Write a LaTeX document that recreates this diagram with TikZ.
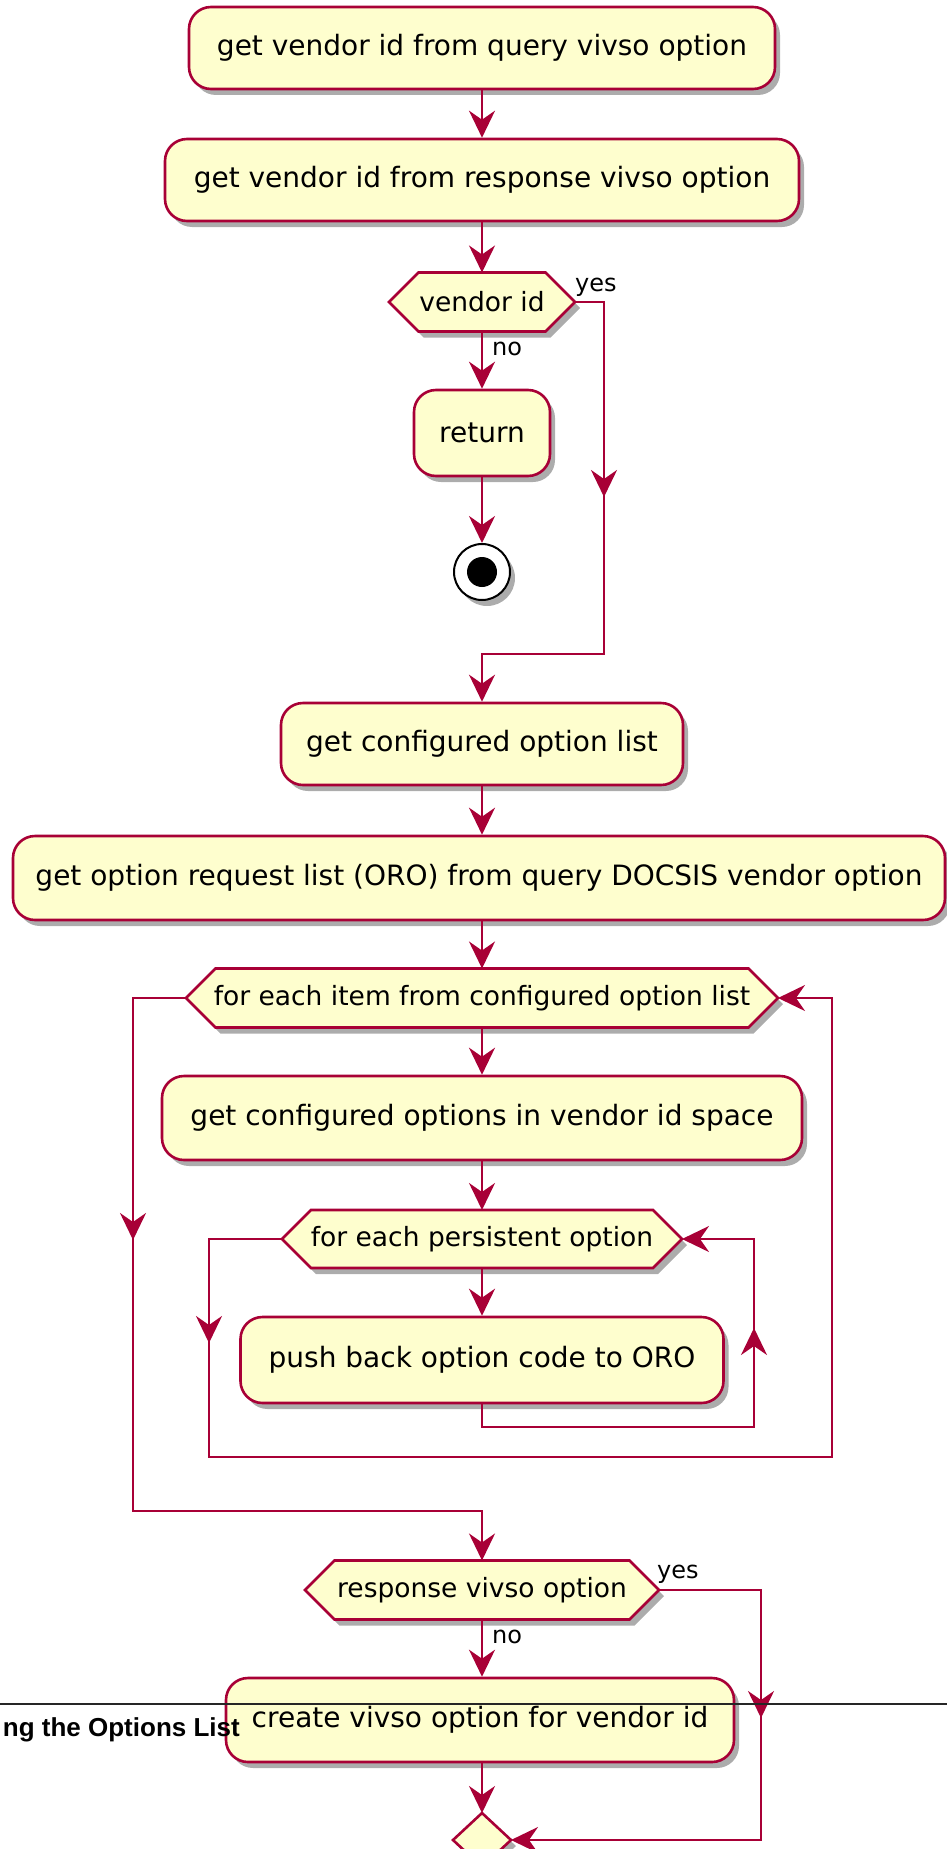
\documentclass[tikz,border=0pt]{standalone}
\usepackage{fontspec}
\setmainfont{DejaVu Sans}
\newfontfamily\capfont{Liberation Sans}
\usetikzlibrary{arrows.meta,shadows}
\definecolor{umlfill}{HTML}{FEFECE}
\definecolor{umlline}{HTML}{A80036}
\tikzset{
  shad/.style={drop shadow={opacity=0.5, fill=black!65, shadow xshift=5pt, shadow yshift=-6pt}},
  actbox/.style={draw=umlline, fill=umlfill, line width=2.6pt, rounded corners=22pt,
    minimum height=82pt, inner sep=0pt, shad, font=\fontsize{28}{32}\selectfont, text=black},
  hexshape/.style={draw=umlline, fill=umlfill, line width=2.6pt, shad},
  hextxt/.style={inner sep=0pt, outer sep=0pt, font=\fontsize{26.5}{30}\selectfont, text=black},
  conn/.style={draw=umlline, line width=2.6pt},
  arr/.style={conn, -{Stealth[length=27pt,width=26pt,inset=9pt]}},
  lbl/.style={font=\fontsize{24}{28}\selectfont, text=black, inner sep=0pt, anchor=west},
}
\newcommand\hexa[6]{%
  \path[hexshape] ({#2-#4},{#3}) -- ({#2-#4+#5},{#3-#5}) -- ({#2+#4-#5},{#3-#5}) -- ({#2+#4},{#3})
     -- ({#2+#4-#5},{#3+#5}) -- ({#2-#4+#5},{#3+#5}) -- cycle;
  \node[hextxt, minimum width={2*#4 pt}, minimum height={2*#5 pt}] (#1) at (#2,#3) {#6};
}
\begin{document}
\begin{tikzpicture}[x=1pt,y=-1pt]
\useasboundingbox (0,0) rectangle (947,1849);

% shapes
\node[actbox, minimum width=586pt] (b1) at (482,48) {get vendor id from query vivso option};
\node[actbox, minimum width=634pt] (b2) at (482,180) {get vendor id from response vivso option};
\hexa{vid}{482}{302}{93}{29.5}{vendor id}
\node[actbox, minimum width=136pt, minimum height=86pt] (ret) at (482,433) {return};
\node[circle, draw=black, fill=white, line width=2pt, minimum size=56pt, inner sep=0pt, shad] (stop) at (482,572) {};
\fill[black] (stop.center) circle (15);
\node[actbox, minimum width=402pt] (conf) at (482,744) {get configured option list};
\node[actbox, minimum width=932pt, minimum height=84pt] (oro) at (479,878) {get option request list (ORO) from query DOCSIS vendor option};
\hexa{loopA}{482}{998}{296}{29.5}{for each item from configured option list}
\node[actbox, minimum width=640pt, minimum height=84pt] (cvid) at (482,1118) {get configured options in vendor id space};
\hexa{loopB}{482}{1239}{200}{29}{for each persistent option}
\node[actbox, minimum width=483pt, minimum height=86pt] (push) at (482,1360) {push back option code to ORO};
\hexa{resp}{482}{1590}{177}{29.5}{response vivso option}
\node[actbox, minimum width=508pt, minimum height=84pt] (create) at (480,1720) {create vivso option for vendor id};
\node[inner sep=0pt, outer sep=0pt, minimum width=58pt, minimum height=54pt] (merge) at (482,1840) {};
\path[hexshape] (merge.north) -- (merge.east) -- (merge.south) -- (merge.west) -- cycle;

% corner coordinates
\coordinate (c6) at (604,654);
\coordinate (c1) at (754,1427);
\coordinate (c2) at (209,1457);
\coordinate (c3) at (832,1457);
\coordinate (c4) at (133,1511);
\coordinate (c7) at (761,1840);

% connectors
\draw[arr] (b1) -- (b2);
\draw[arr] (b2) -- (vid);
\draw[arr] (vid) -- (ret);
\draw[arr] (ret) -- (stop);
\draw[arr] (vid.east) -| (c6) -| (conf.north);
\draw[arr] (604,465) -- (604,497);
\draw[arr] (conf) -- (conf.south |- oro.north);
\draw[arr] (oro.south -| loopA.north) -- (loopA.north);
\draw[arr] (loopA) -- (cvid);
\draw[arr] (cvid) -- (loopB);
\draw[arr] (loopB) -- (push);
\draw[arr] (push.south) |- (c1) |- (loopB.east);
\draw[arr] (754,1362) -- (754,1328);
\draw[arr] (loopB.west) -| (c2) -- (c3) |- (loopA.east);
\draw[arr] (209,1310) -- (209,1343);
\draw[arr] (loopA.west) -| (c4) -| (resp.north);
\draw[arr] (133,1205) -- (133,1240);
\draw[arr] (resp) -- (resp.south |- create.north);
\draw[arr] (resp.east) -| (c7) -- (merge.east);
\draw[arr] (761,1685) -- (761,1718);
\draw[arr] (create.south -| merge.north) -- (merge.north);

% labels
\node[lbl] (yes1) at (575,287) {yes};
\node[lbl] (no1) at (492,349) {no};
\node[lbl] (yes2) at (657,1574) {yes};
\node[lbl] (no2) at (492,1637) {no};

% page overlay
\coordinate (hl) at (0,1704);
\coordinate (hr) at (947,1704);
\draw[black!85, line width=1.3pt] (hl) -- (hr);
\node[anchor=base east, inner sep=0pt, font=\capfont\bfseries\fontsize{26}{30}\selectfont] (cap) at (240,1736) {ng the Options List};
\end{tikzpicture}
\end{document}
